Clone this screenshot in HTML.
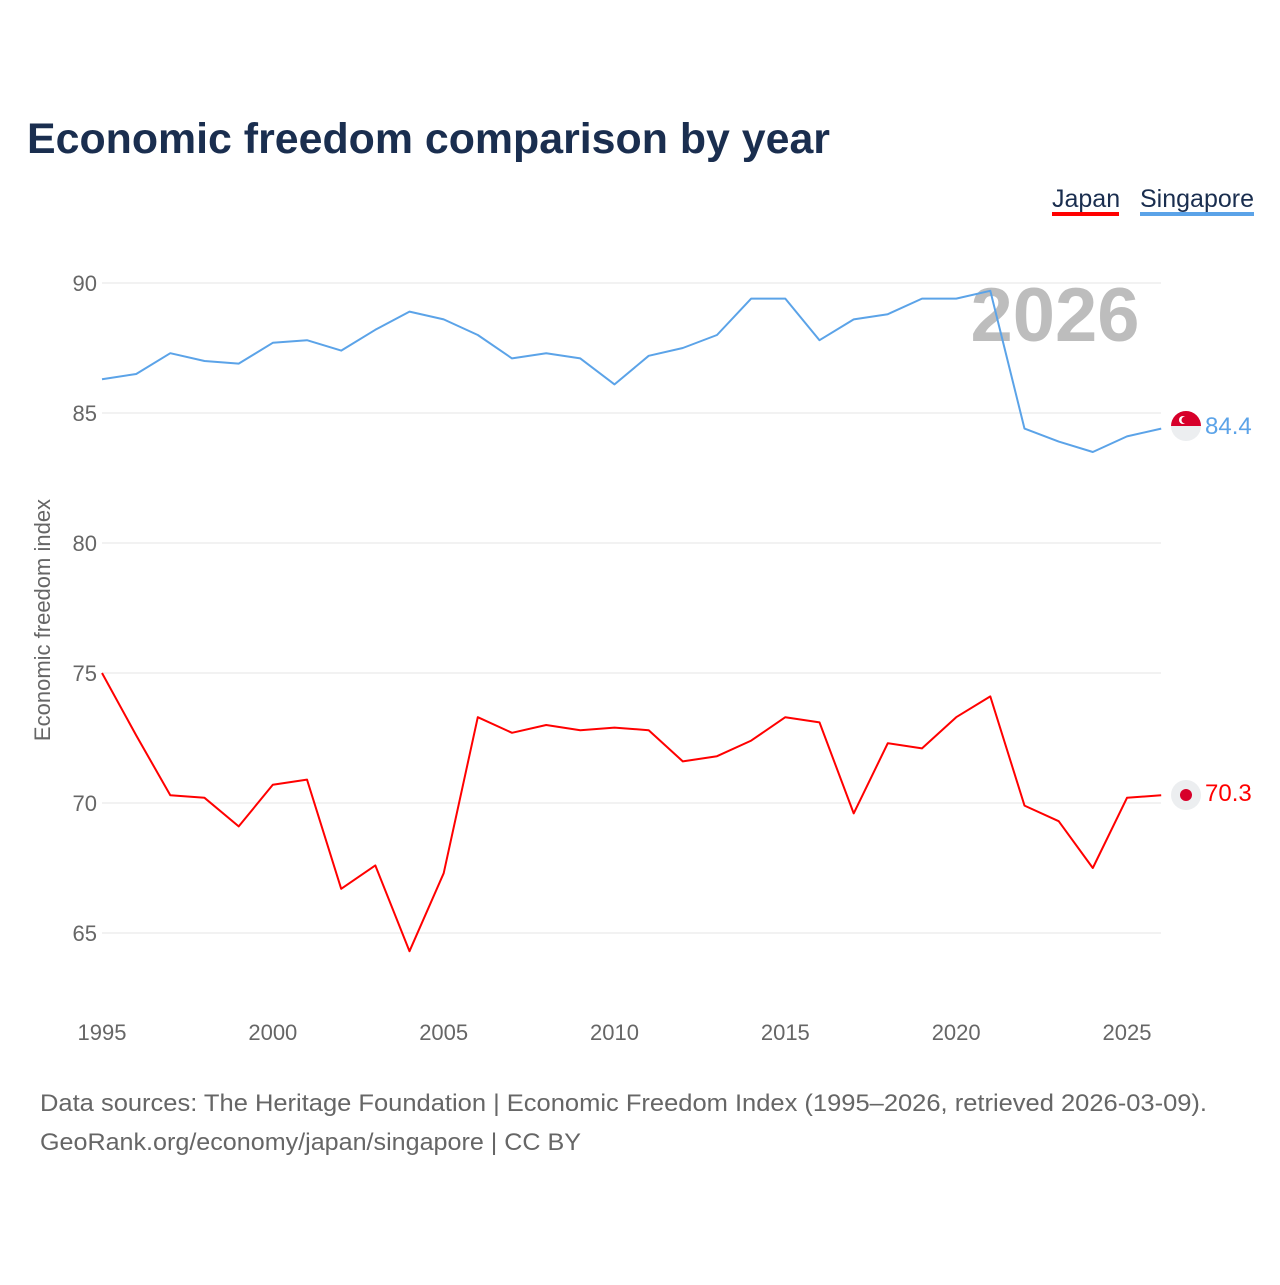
<!DOCTYPE html>
<html><head><meta charset="utf-8"><style>
body{margin:0;background:#fff;font-family:"Liberation Sans",sans-serif;}
</style></head><body>
<svg width="1280" height="1280" xmlns="http://www.w3.org/2000/svg" id="svg">
<text x="27" y="153" font-size="43" font-weight="bold" fill="#1a2e4f" textLength="803" lengthAdjust="spacingAndGlyphs">Economic freedom comparison by year</text>
<g>
<text x="1052" y="207" font-size="25" fill="#1a2e4f">Japan</text>
<rect x="1052" y="212" width="67" height="4" fill="#ff0000"/>
<text x="1140" y="207" font-size="25" fill="#1a2e4f">Singapore</text>
<rect x="1140" y="212" width="114" height="4" fill="#5ba3e8"/>
</g>
<text x="1055" y="341" text-anchor="middle" font-size="76" font-weight="bold" fill="#bdbdbd">2026</text>
<g id="grid"></g><g id="lines"></g>
<text transform="translate(50,620) rotate(-90)" text-anchor="middle" font-size="22" fill="#666">Economic freedom index</text>
<g>
<circle cx="1186" cy="426" r="15" fill="#eceef0"/>
<path d="M1171,426 A15,15 0 0 1 1201,426 Z" fill="#d7002a"/>
<circle cx="1183" cy="420" r="4" fill="#fff"/><circle cx="1185" cy="420" r="3.5" fill="#d7002a"/>
</g>
<g>
<circle cx="1186" cy="795" r="15" fill="#eceef0"/><circle cx="1186" cy="795" r="6" fill="#d7002a"/>
</g>
<text x="1205" y="434" font-size="24" fill="#5ba3e8">84.4</text>
<text x="1205" y="801" font-size="24" fill="#ff0000">70.3</text>
<text x="40" y="1111" font-size="24" fill="#666" textLength="1167" lengthAdjust="spacingAndGlyphs">Data sources: The Heritage Foundation | Economic Freedom Index (1995–2026, retrieved 2026-03-09).</text>
<text x="40" y="1150" font-size="24" fill="#666" textLength="541" lengthAdjust="spacingAndGlyphs">GeoRank.org/economy/japan/singapore | CC BY</text>
</svg>
<script>
const years=[1995,1996,1997,1998,1999,2000,2001,2002,2003,2004,2005,2006,2007,2008,2009,2010,2011,2012,2013,2014,2015,2016,2017,2018,2019,2020,2021,2022,2023,2024,2025,2026];
const singapore=[86.3,86.5,87.3,87.0,86.9,87.7,87.8,87.4,88.2,88.9,88.6,88.0,87.1,87.3,87.1,86.1,87.2,87.5,88.0,89.4,89.4,87.8,88.6,88.8,89.4,89.4,89.7,84.4,83.9,83.5,84.1,84.4];
const japan=[75.0,72.6,70.3,70.2,69.1,70.7,70.9,66.7,67.6,64.3,67.3,73.3,72.7,73.0,72.8,72.9,72.8,71.6,71.8,72.4,73.3,73.1,69.6,72.3,72.1,73.3,74.1,69.9,69.3,67.5,70.2,70.3];
const yTicks=[65,70,75,80,85,90];
const xTicks=[1995,2000,2005,2010,2015,2020,2025];
const NS="http://www.w3.org/2000/svg";
const x=v=>102+(v-1995)*(1025/30);
const y=v=>283+(90-v)*26;
const grid=document.getElementById('grid'),lines=document.getElementById('lines');
function mk(t,a,p){const e=document.createElementNS(NS,t);for(const k in a)e.setAttribute(k,a[k]);p.appendChild(e);return e;}
yTicks.forEach(t=>{
 const l=mk('line',{x1:102,x2:1161,y1:y(t),y2:y(t),stroke:'#e6e6e6'},grid);
 
 
 const tx=mk('text',{x:97,y:y(t)+8,'text-anchor':'end','font-size':22,fill:'#666'},grid);
 tx.textContent=t;
 
 
});
xTicks.forEach(t=>{
 const tx=mk('text',{x:x(t),y:1040,'text-anchor':'middle','font-size':22,fill:'#666'},grid);
 tx.textContent=t;
 
 
});
function line(vals,color,name){
 const d=vals.map((v,i)=>(i?'L':'M')+x(years[i]).toFixed(1)+','+y(v).toFixed(1)).join('');
 const p=mk('path',{d:d,fill:'none',stroke:color,'stroke-width':2,'stroke-linejoin':'round'},lines);
 
 
}
line(singapore,'#5ba3e8','singapore-line');
line(japan,'#ff0000','japan-line');
</script>
</body></html>
